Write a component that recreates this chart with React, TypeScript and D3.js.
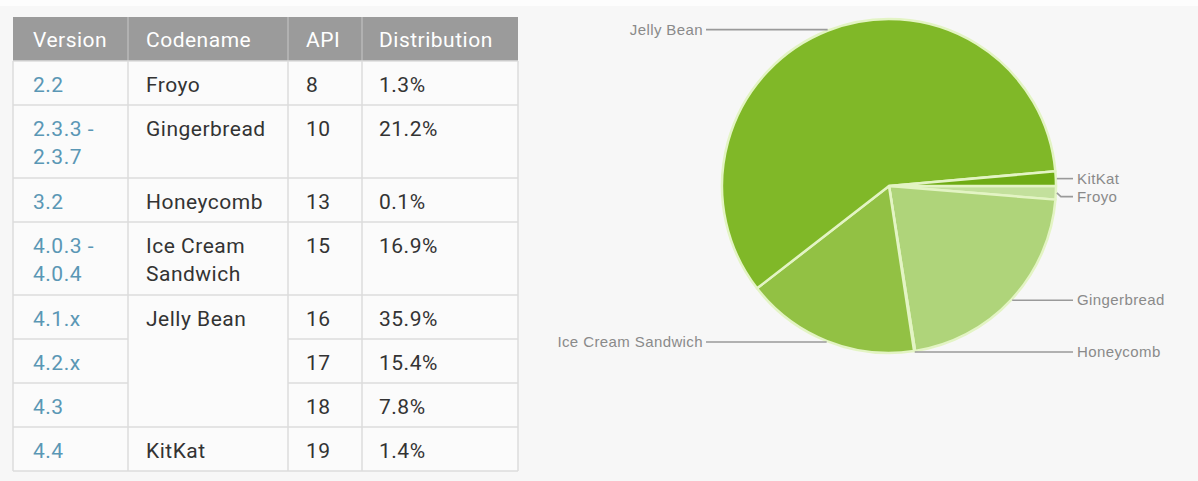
import React from "react";
import * as d3 from "d3";

// ---- Data ----
const versions: string[][] = [
  ["2.2"],
  ["2.3.3 -", "2.3.7"],
  ["3.2"],
  ["4.0.3 -", "4.0.4"],
  ["4.1.x"],
  ["4.2.x"],
  ["4.3"],
  ["4.4"],
];
// codename cells: text lines and how many rows they span
const codenameCells: { lines: string[]; span: number }[] = [
  { lines: ["Froyo"], span: 1 },
  { lines: ["Gingerbread"], span: 1 },
  { lines: ["Honeycomb"], span: 1 },
  { lines: ["Ice Cream", "Sandwich"], span: 1 },
  { lines: ["Jelly Bean"], span: 3 },
  { lines: ["KitKat"], span: 1 },
];
const apiLevels = ["8", "10", "13", "15", "16", "17", "18", "19"];
const distribution = ["1.3%", "21.2%", "0.1%", "16.9%", "35.9%", "15.4%", "7.8%", "1.4%"];
const headers = ["Version", "Codename", "API", "Distribution"];

const pieLabels = ["Froyo", "Gingerbread", "Honeycomb", "Ice Cream Sandwich", "Jelly Bean", "KitKat"];
const pieValues = [1.3, 21.2, 0.1, 16.9, 59.1, 1.4];
const pieColors = ["#c3e09c", "#afd47a", "#a6cf6a", "#92c144", "#80b828", "#6fac14"];

// ---- Layout ----
const W = 1198;
const H = 481;
const colEdges = [13, 128, 288, 362, 518];
const tableTop = 17;
const headerH = 44;
const rowBase = 44;
const lineStep = 28;
const padX = [20, 18, 18, 17];

const cx = 889;
const cy = 186;
const R = 167;

export default function App() {
  // row heights from line counts
  const rowHeights = versions.map((v) => rowBase + (Math.max(v.length, 1) - 1) * 29);
  const rowTops: number[] = [];
  let y = tableTop + headerH;
  rowHeights.forEach((h) => {
    rowTops.push(y);
    y += h;
  });
  const tableBottom = y;

  // map codename cells to row indices
  const codeCellRows: { start: number; span: number; lines: string[] }[] = [];
  let ri = 0;
  codenameCells.forEach((c) => {
    codeCellRows.push({ start: ri, span: c.span, lines: c.lines });
    ri += c.span;
  });

  const font = "Roboto, 'Noto Sans', Arial, sans-serif";
  const fs = 21;
  const ls = 0.5;

  // pie
  const pie = d3
    .pie<number>()
    .sort(null)
    .startAngle(Math.PI / 2)
    .endAngle(Math.PI / 2 + Math.PI * 2)
    .value((d) => d);
  const arcs = pie(pieValues);
  const arc = d3.arc<d3.PieArcDatum<number>>().innerRadius(0).outerRadius(R);

  // label placement
  type Lab = { name: string; ax: number; ay: number; y: number; right: boolean };
  const labs: Lab[] = arcs.map((a, i) => {
    const mid = (a.startAngle + a.endAngle) / 2;
    const ax = cx + Math.sin(mid) * (R + 1);
    const ay = cy - Math.cos(mid) * (R + 1);
    return { name: pieLabels[i], ax, ay, y: ay, right: ax > cx };
  });
  const minGap = 18;
  [true, false].forEach((side) => {
    const group = labs.filter((l) => l.right === side).sort((a, b) => a.ay - b.ay);
    for (let k = 1; k < group.length; k++) {
      if (group[k].y - group[k - 1].y < minGap) group[k].y = group[k - 1].y + minGap;
    }
  });
  const rightLineEnd = 1073;
  const leftLineEnd = 706;

  return (
    <div style={{ position: "fixed", left: 0, top: 0 }}>
      <svg width={W} height={H} style={{ display: "block" }}>
        <rect x={0} y={0} width={W} height={H} fill="#f7f7f7" />
        <rect x={0} y={0} width={W} height={6} fill="#fdfdfd" />

        {/* Table */}
        <g fontFamily={font} fontSize={fs} letterSpacing={ls}>
          <rect x={colEdges[0]} y={tableTop} width={colEdges[4] - colEdges[0]} height={tableBottom - tableTop} fill="#fbfbfb" />
          <rect x={colEdges[0]} y={tableTop} width={colEdges[4] - colEdges[0]} height={headerH} fill="#9b9b9b" />
          {headers.map((h, i) => (
            <text key={h} x={colEdges[i] + padX[i]} y={tableTop + headerH / 2} dy="0.36em" fill="#ffffff">
              {h}
            </text>
          ))}
          {/* header separators */}
          {colEdges.slice(1, 4).map((x, i) => (
            <line key={"hs" + i} x1={x} x2={x} y1={tableTop} y2={tableTop + headerH} stroke="#b8b8b8" strokeWidth={1.5} />
          ))}

          {/* row lines */}
          {rowTops.map((t, i) => {
            const inside = codeCellRows.some((c) => i > c.start && i < c.start + c.span);
            return inside ? (
              <g key={"rl" + i}>
                <line x1={colEdges[0]} x2={colEdges[1]} y1={t} y2={t} stroke="#dddddd" strokeWidth={1.5} />
                <line x1={colEdges[2]} x2={colEdges[4]} y1={t} y2={t} stroke="#dddddd" strokeWidth={1.5} />
              </g>
            ) : (
              <line key={"rl" + i} x1={colEdges[0]} x2={colEdges[4]} y1={t} y2={t} stroke="#dddddd" strokeWidth={1.5} />
            );
          })}
          <line x1={colEdges[0]} x2={colEdges[4]} y1={tableBottom} y2={tableBottom} stroke="#dddddd" strokeWidth={1.5} />
          {colEdges.map((x, i) => (
            <line key={"cl" + i} x1={x} x2={x} y1={tableTop + headerH} y2={tableBottom} stroke="#dddddd" strokeWidth={1.5} />
          ))}

          {/* cells */}
          {versions.map((v, i) =>
            v.map((ln, k) => (
              <text key={"v" + i + k} x={colEdges[0] + padX[0]} y={rowTops[i] + 23 + k * lineStep} dy="0.36em" fill="#5a97b5">
                {ln}
              </text>
            ))
          )}
          {codeCellRows.map((c, i) =>
            c.lines.map((ln, k) => (
              <text key={"c" + i + k} x={colEdges[1] + padX[1]} y={rowTops[c.start] + 23 + k * lineStep} dy="0.36em" fill="#333333">
                {ln}
              </text>
            ))
          )}
          {apiLevels.map((a, i) => (
            <text key={"a" + i} x={colEdges[2] + padX[2]} y={rowTops[i] + 23} dy="0.36em" fill="#333333">
              {a}
            </text>
          ))}
          {distribution.map((d, i) => (
            <text key={"d" + i} x={colEdges[3] + padX[3]} y={rowTops[i] + 23} dy="0.36em" fill="#333333">
              {d}
            </text>
          ))}
        </g>

        {/* Pie */}
        <g transform={`translate(${cx},${cy})`}>
          {arcs.map((a, i) => (
            <path key={"p" + i} d={arc(a) || ""} fill={pieColors[i]} stroke="#e3f4c4" strokeWidth={2.5} strokeLinejoin="round" />
          ))}
        </g>

        {/* Leader lines & labels */}
        <g fontFamily="'Liberation Sans', Arial, sans-serif" fontSize={15} letterSpacing={0.4} fill="#8a8a8a">
          {labs.map((l) => {
            const ex = l.right ? rightLineEnd : leftLineEnd;
            const kx = l.ax + (l.right ? 4 : -4);
            const d =
              Math.abs(l.y - l.ay) > 0.5
                ? `M${l.ax},${l.ay}L${kx},${l.y}L${ex},${l.y}`
                : `M${l.ax},${l.ay}L${ex},${l.y}`;
            return (
              <g key={"lab" + l.name}>
                <path d={d} fill="none" stroke="#9a9a9a" strokeWidth={1.6} />
                <text x={l.right ? ex + 4 : ex - 3} y={l.y} dy="0.35em" textAnchor={l.right ? "start" : "end"}>
                  {l.name}
                </text>
              </g>
            );
          })}
        </g>
      </svg>
    </div>
  );
}
